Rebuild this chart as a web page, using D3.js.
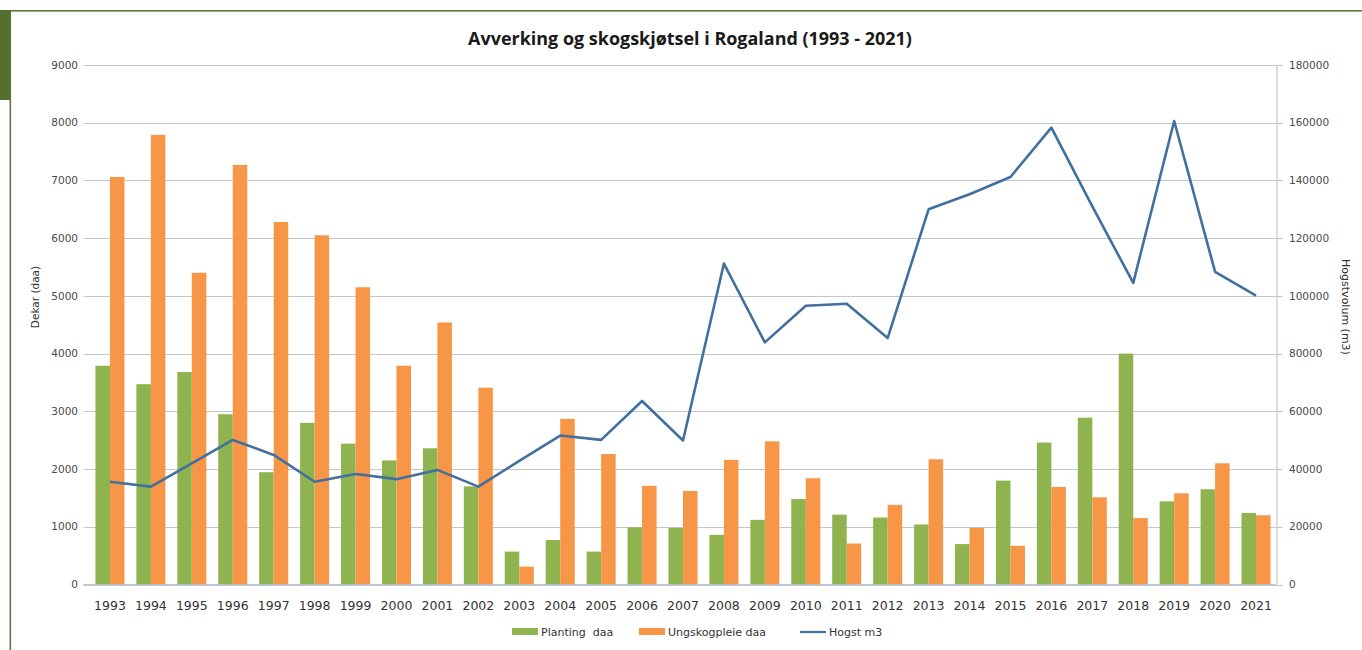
<!DOCTYPE html>
<html>
<head>
<meta charset="utf-8">
<script src="https://cdn.jsdelivr.net/npm/d3@7/dist/d3.min.js"></script>
<style>
  html, body { margin: 0; padding: 0; background: #ffffff; }
  svg { display: block; }
  text { white-space: pre; }
</style>
</head>
<body>
<svg id="chart" width="1362" height="650"></svg>
<script>
const years = ["1993","1994","1995","1996","1997","1998","1999","2000","2001","2002","2003","2004","2005","2006","2007","2008","2009","2010","2011","2012","2013","2014","2015","2016","2017","2018","2019","2020","2021"];
const planting = [3790,3470,3680,2950,1945,2800,2440,2150,2360,1700,570,770,570,990,980,860,1120,1480,1210,1160,1040,700,1800,2460,2890,4000,1440,1650,1240];
const ungskogpleie = [7060,7790,5400,7270,6280,6050,5150,3790,4540,3410,310,2870,2260,1710,1620,2160,2480,1840,710,1380,2170,980,670,1690,1510,1150,1580,2100,1200];
const hogst = [35600,33900,42000,50100,44900,35600,38300,36500,39700,33900,42800,51600,50100,63600,49900,111200,83900,96600,97300,85400,130000,135200,141200,158300,131000,104500,160600,108300,100100];
const leftTicks = [0,1000,2000,3000,4000,5000,6000,7000,8000,9000];
const rightTicks = [0,20000,40000,60000,80000,100000,120000,140000,160000,180000];
const seriesNames = ["Planting  daa","Ungskogpleie daa","Hogst m3"];
const colors = {green:"#8fb34e", orange:"#f79646", line:"#41709f"};

const svg = d3.select("#chart");

// frame decoration
svg.append("rect").attr("x",10).attr("y",10).attr("width",1352).attr("height",1.6).attr("fill","#5b7a36");
svg.append("rect").attr("x",9.5).attr("y",10).attr("width",1.6).attr("height",640).attr("fill","#5b7a36");
svg.append("rect").attr("x",0).attr("y",10).attr("width",10).attr("height",90).attr("fill","#53702f");

const plot = {left:89.5, right:1276.5, top:65, bottom:584.5};

const x0 = d3.scaleBand().domain(years).range([plot.left, plot.right]).padding(0);
const x1 = d3.scaleBand().domain(["p","u"]).range([0, x0.bandwidth()]).paddingInner(0).paddingOuter(0.41);
const yL = d3.scaleLinear().domain([0,9000]).range([plot.bottom, plot.top]);
const yR = d3.scaleLinear().domain([0,180000]).range([plot.bottom, plot.top]);

// gridlines
svg.append("g").selectAll("line").data(leftTicks.filter(d=>d>0)).join("line")
  .attr("x1", plot.left-6).attr("x2", plot.right)
  .attr("y1", d=>Math.round(yL(d))+0.5).attr("y2", d=>Math.round(yL(d))+0.5)
  .attr("stroke","#c6c6c6").attr("stroke-width",1.2);

// right axis line and ticks
svg.append("line").attr("x1",plot.right+0.5).attr("x2",plot.right+0.5).attr("y1",plot.top).attr("y2",plot.bottom)
  .attr("stroke","#c6c6c6").attr("stroke-width",1.2);
svg.append("g").selectAll("line").data(rightTicks).join("line")
  .attr("x1", plot.right).attr("x2", plot.right+6)
  .attr("y1", d=>Math.round(yR(d))+0.5).attr("y2", d=>Math.round(yR(d))+0.5)
  .attr("stroke","#c6c6c6").attr("stroke-width",1.2);

// bars
const groups = svg.append("g").selectAll("g").data(years).join("g")
  .attr("transform", d=>`translate(${x0(d)},0)`);
groups.append("rect")
  .attr("x", x1("p")).attr("width", x1.bandwidth())
  .attr("y", (d,i)=>yL(planting[i])).attr("height", (d,i)=>yL(0)-yL(planting[i]))
  .attr("fill", colors.green);
groups.append("rect")
  .attr("x", x1("u")).attr("width", x1.bandwidth())
  .attr("y", (d,i)=>yL(ungskogpleie[i])).attr("height", (d,i)=>yL(0)-yL(ungskogpleie[i]))
  .attr("fill", colors.orange);

// bottom axis line
svg.append("line").attr("x1",plot.left-6).attr("x2",plot.right).attr("y1",plot.bottom+0.5).attr("y2",plot.bottom+0.5)
  .attr("stroke","#a9b4c4").attr("stroke-width",1.3);

// line series
const line = d3.line().x((d,i)=>x0(years[i])+x0.bandwidth()/2).y(d=>yR(d));
svg.append("path").datum(hogst).attr("d", line)
  .attr("fill","none").attr("stroke",colors.line).attr("stroke-width",2.6).attr("stroke-linejoin","round");

// left tick labels
svg.append("g").selectAll("text").data(leftTicks).join("text")
  .attr("x", 78).attr("y", d=>yL(d)).attr("dy","0.35em").attr("text-anchor","end")
  .attr("font-family","DejaVu Sans").attr("font-size",10.5).attr("fill","#4a4a4a")
  .text(d=>d);

// right tick labels
svg.append("g").selectAll("text").data(rightTicks).join("text")
  .attr("x", 1289).attr("y", d=>yR(d)).attr("dy","0.35em").attr("text-anchor","start")
  .attr("font-family","DejaVu Sans").attr("font-size",10.5).attr("fill","#4a4a4a")
  .text(d=>d);

// x labels
svg.append("g").selectAll("text").data(years).join("text")
  .attr("x", d=>x0(d)+x0.bandwidth()/2).attr("y", 610).attr("text-anchor","middle")
  .attr("font-family","DejaVu Sans").attr("font-size",12.5).attr("fill","#333")
  .text(d=>d);

// axis titles
svg.append("text").attr("transform","translate(39,297) rotate(-90)").attr("text-anchor","middle")
  .attr("font-family","DejaVu Sans").attr("font-size",10.5).attr("fill","#333").text("Dekar (daa)");
svg.append("text").attr("transform","translate(1342,307) rotate(90)").attr("text-anchor","middle")
  .attr("font-family","DejaVu Sans").attr("font-size",11).attr("fill","#333").text("Hogstvolum (m3)");

// title
const title = svg.append("text").attr("x",690).attr("y",45).attr("text-anchor","middle")
  .attr("font-family","Open Sans").attr("font-weight","bold").attr("font-size",16).attr("fill","#1a1a1a")
  .text("Avverking og skogskjøtsel i Rogaland (1993 - 2021)");
const tl = title.node().getComputedTextLength();
title.attr("font-size", 16*444/tl);

// legend
const leg = svg.append("g").attr("font-family","DejaVu Sans").attr("font-size",11).attr("fill","#333");
const legItems = [
  {name:seriesNames[0], type:"bar", color:colors.green, x:512},
  {name:seriesNames[1], type:"bar", color:colors.orange, x:639},
  {name:seriesNames[2], type:"line", color:colors.line, x:800}
];
legItems.forEach(it=>{
  if (it.type==="bar") {
    leg.append("rect").attr("x",it.x).attr("y",628).attr("width",26).attr("height",7).attr("fill",it.color);
  } else {
    leg.append("line").attr("x1",it.x).attr("x2",it.x+26).attr("y1",632).attr("y2",632).attr("stroke",it.color).attr("stroke-width",2.2);
  }
  leg.append("text").attr("x",it.x+29).attr("y",632).attr("dy","0.35em").text(it.name);
});
</script>
</body>
</html>
